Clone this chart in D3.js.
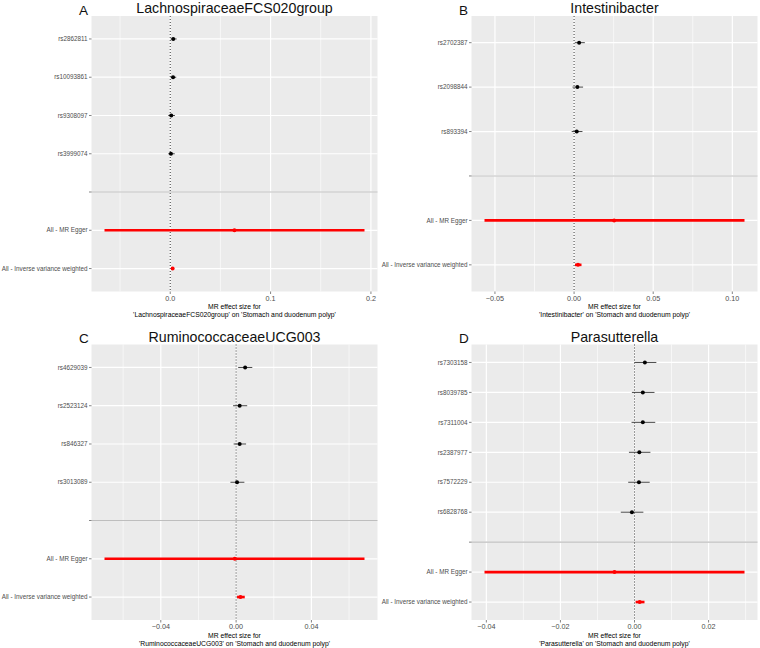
<!DOCTYPE html>
<html lang="en">
<head>
  <meta charset="UTF-8" />
  <title>MR forest plots - Stomach and duodenum polyp</title>
  <script src="https://d3js.org/d3.v7.min.js"></script>
  <style>
    body { margin: 0; background: white; }
    svg { display: block; font-family: "Liberation Sans", Arial, sans-serif; }
  </style>
</head>
<body>

<svg width="760" height="648"></svg>

<script>
  // ---- data ----
  // A
  const snpsA  = ["rs2862811", "rs10093861", "rs9308097", "rs3999074"];
  const betaA  = [0.0030, 0.0028, 0.0010, 0.0007];
  const loA    = [0.0004, 0.0004, -0.0020, -0.0020];
  const hiA    = [0.0064, 0.0060, 0.0047, 0.0045];
  const eggerA = [0.0640, -0.0655, 0.1936];   // beta, lo, hi
  const ivwA   = [0.0024, 0.0010, 0.0038];
  const ticksA = [0, 0.1, 0.2];
  const tickLabelsA = ["0.0", "0.1", "0.2"];

  // B
  const snpsB  = ["rs2702387", "rs2098844", "rs893394"];
  const betaB  = [0.0032, 0.0021, 0.0017];
  const loB    = [0.0005, -0.0010, -0.0015];
  const hiB    = [0.0068, 0.0057, 0.0053];
  const eggerB = [0.0253, -0.0566, 0.1077];
  const ivwB   = [0.0025, 0.0006, 0.0047];
  const ticksB = [-0.05, 0, 0.05, 0.1];
  const tickLabelsB = ["\u22120.05", "0.00", "0.05", "0.10"];

  // C
  const snpsC  = ["rs4629039", "rs2523124", "rs846327", "rs3013089"];
  const betaC  = [0.0048, 0.0019, 0.0019, 0.0005];
  const loC    = [0.0011, -0.0016, -0.0013, -0.0030];
  const hiC    = [0.0086, 0.0059, 0.0053, 0.0044];
  const eggerC = [-0.0007, -0.0699, 0.0682];
  const ivwC   = [0.0023, 0.0005, 0.0046];
  const ticksC = [-0.04, 0, 0.04];
  const tickLabelsC = ["\u22120.04", "0.00", "0.04"];

  // D
  const snpsD  = ["rs7303158", "rs8039785", "rs7311004", "rs2387977", "rs7572229", "rs6828768"];
  const betaD  = [0.0028, 0.00225, 0.00225, 0.0013, 0.0012, -0.0007];
  const loD    = [0.0000, -0.0007, -0.0008, -0.0015, -0.0017, -0.0037];
  const hiD    = [0.0059, 0.0054, 0.0056, 0.0043, 0.0041, 0.0024];
  const eggerD = [-0.0054, -0.0405, 0.0297];
  const ivwD   = [0.0014, 0.0003, 0.0027];
  const ticksD = [-0.04, -0.02, 0, 0.02];
  const tickLabelsD = ["\u22120.04", "\u22120.02", "0.00", "0.02"];

  const panels = [
    { letter: "A", title: "LachnospiraceaeFCS020group", snps: snpsA, beta: betaA, lo: loA, hi: hiA,
      egger: eggerA, ivw: ivwA, ticks: ticksA, tickLabels: tickLabelsA, x: 91.5, y: 16 },
    { letter: "B", title: "Intestinibacter", snps: snpsB, beta: betaB, lo: loB, hi: hiB,
      egger: eggerB, ivw: ivwB, ticks: ticksB, tickLabels: tickLabelsB, x: 471.5, y: 16 },
    { letter: "C", title: "RuminococcaceaeUCG003", snps: snpsC, beta: betaC, lo: loC, hi: hiC,
      egger: eggerC, ivw: ivwC, ticks: ticksC, tickLabels: tickLabelsC, x: 91.5, y: 344.5 },
    { letter: "D", title: "Parasutterella", snps: snpsD, beta: betaD, lo: loD, hi: hiD,
      egger: eggerD, ivw: ivwD, ticks: ticksD, tickLabels: tickLabelsD, x: 471.5, y: 344.5 }
  ];

  const pw = 286, ph = 275.5;
  const svg = d3.select("svg");
  const EGGER = "All - MR Egger", IVW = "All - Inverse variance weighted";

  panels.forEach(p => {
    const g = svg.append("g");

    // rows: snps, empty separator, then the two methods
    const rows = p.snps.map((s, i) => ({ label: s, b: p.beta[i], lo: p.lo[i], hi: p.hi[i], summary: false }));
    rows.push({ label: EGGER, b: p.egger[0], lo: p.egger[1], hi: p.egger[2], summary: true });
    rows.push({ label: IVW, b: p.ivw[0], lo: p.ivw[1], hi: p.ivw[2], summary: true });
    const levels = [...p.snps, "", EGGER, IVW];

    // x domain like ggplot: data range + 5% each side
    const ext = [d3.min(rows, d => d.lo), d3.max(rows, d => d.hi)];
    const pad = (ext[1] - ext[0]) * 0.05;
    const x = d3.scaleLinear().domain([ext[0] - pad, ext[1] + pad]).range([p.x, p.x + pw]);
    const y = d3.scalePoint().domain(levels).range([p.y, p.y + ph]).padding(0.6);

    // panel background
    g.append("rect")
      .attr("x", p.x).attr("y", p.y).attr("width", pw).attr("height", ph)
      .attr("fill", "#EBEBEB");

    // minor grid = midpoints of major ticks (and one step beyond)
    const step = p.ticks[1] - p.ticks[0];
    const minor = [];
    for (let v = p.ticks[0] - step / 2; v <= x.domain()[1]; v += step) minor.push(v);
    g.selectAll(".minor").data(minor.filter(v => v >= x.domain()[0] && v <= x.domain()[1]))
      .join("line")
      .attr("x1", d => x(d)).attr("x2", d => x(d))
      .attr("y1", p.y).attr("y2", p.y + ph)
      .attr("stroke", "white").attr("stroke-width", 0.6);

    g.selectAll(".major").data(p.ticks)
      .join("line")
      .attr("x1", d => x(d)).attr("x2", d => x(d))
      .attr("y1", p.y).attr("y2", p.y + ph)
      .attr("stroke", "white").attr("stroke-width", 1.2);

    g.selectAll(".ygrid").data(levels)
      .join("line")
      .attr("x1", p.x).attr("x2", p.x + pw)
      .attr("y1", d => y(d)).attr("y2", d => y(d))
      .attr("stroke", "white").attr("stroke-width", 1.2);

    // separator line
    g.append("line")
      .attr("x1", p.x).attr("x2", p.x + pw)
      .attr("y1", y("")).attr("y2", y(""))
      .attr("stroke", "#BEBEBE").attr("stroke-width", 1.1);

    // dotted zero line
    g.append("line")
      .attr("x1", x(0)).attr("x2", x(0))
      .attr("y1", p.y).attr("y2", p.y + ph)
      .attr("stroke", "#222").attr("stroke-width", 0.9)
      .attr("stroke-dasharray", "1,2");

    // error bars
    g.selectAll(".err").data(rows)
      .join("line")
      .attr("x1", d => x(d.lo)).attr("x2", d => x(d.hi))
      .attr("y1", d => y(d.label)).attr("y2", d => y(d.label))
      .attr("stroke", d => d.summary ? "#FF0000" : "#333")
      .attr("stroke-width", d => d.summary ? 2.6 : 0.9);

    g.selectAll(".pt").data(rows)
      .join("circle")
      .attr("cx", d => x(d.b)).attr("cy", d => y(d.label))
      .attr("r", 2)
      .attr("fill", d => d.summary ? "#FF0000" : "black");

    // y axis
    const yl = g.selectAll(".ylab").data(levels).join("g");
    yl.append("line")
      .attr("x1", p.x - 2.5).attr("x2", p.x)
      .attr("y1", d => y(d)).attr("y2", d => y(d))
      .attr("stroke", "#333").attr("stroke-width", 0.6);
    yl.append("text")
      .attr("x", p.x - 4).attr("y", d => y(d) + 2.2)
      .attr("text-anchor", "end")
      .attr("font-size", 6.3)
      .attr("fill", "#4D4D4D")
      .text(d => d);

    // x axis
    const xt = g.selectAll(".xtick").data(p.ticks).join("g");
    xt.append("line")
      .attr("x1", d => x(d)).attr("x2", d => x(d))
      .attr("y1", p.y + ph).attr("y2", p.y + ph + 2.5)
      .attr("stroke", "#333").attr("stroke-width", 0.6);
    xt.append("text")
      .attr("x", d => x(d)).attr("y", p.y + ph + 9)
      .attr("text-anchor", "middle")
      .attr("font-size", 7.2)
      .attr("fill", "#4D4D4D")
      .text((d, i) => p.tickLabels[i]);

    const cx = p.x + pw / 2;
    g.append("text")
      .attr("x", cx).attr("y", p.y + ph + 17.5)
      .attr("text-anchor", "middle").attr("font-size", 6.8)
      .text("MR effect size for");
    g.append("text")
      .attr("x", cx).attr("y", p.y + ph + 25.5)
      .attr("text-anchor", "middle").attr("font-size", 6.8)
      .text(`'${p.title}' on 'Stomach and duodenum polyp'`);

    // title and panel letter
    g.append("text")
      .attr("x", cx).attr("y", p.y - 3)
      .attr("text-anchor", "middle").attr("font-size", 14.2)
      .attr("fill", "#111")
      .text(p.title);
    g.append("text")
      .attr("x", p.x - 12.5).attr("y", p.y - 1.5)
      .attr("font-size", 13.5)
      .attr("fill", "#111")
      .text(p.letter);
  });
</script>

</body>
</html>
